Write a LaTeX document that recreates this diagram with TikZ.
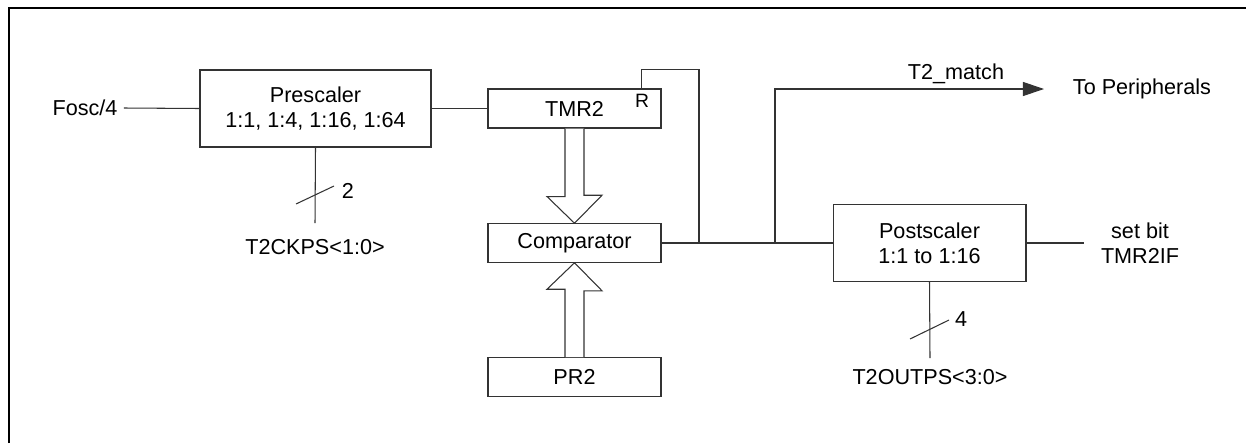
\documentclass[tikz,border=0pt]{standalone}
\usepackage{fontspec}
\setmainfont{Liberation Sans}
\usepackage{tikz}
\usetikzlibrary{arrows.meta, positioning, calc}

\begin{document}
\begin{tikzpicture}[
    x=0.02cm, y=-0.02cm,
    every node/.style={font=\fontsize{12.3}{14}\selectfont, text=black},
    blk/.style={rectangle, draw=black!80, line width=0.6pt, minimum width=3.46cm, minimum height=0.77cm, inner sep=0pt},
    wide/.style={blk, minimum height=1.54cm, align=center},
    wire/.style={draw=black!80, line width=0.6pt},
    bus/.style={draw=black!80, line width=0.6pt, fill=white},
    arr/.style={wire, -{Triangle[length=12pt, width=8pt]}},
    lbl/.style={inner sep=0pt}
]
\useasboundingbox (0,0) rectangle (1246,443);

% outer frame (only top and left edges show)
\draw[line width=1.3pt] (9,443) -- (9,8) -- (1246,8);

% input and prescaler
\node[lbl] (fosc) at (85,108) {Fosc/4};
\node[wide, minimum width=4.62cm] (pre) at (315.5,108.5) {Prescaler\\1:1, 1:4, 1:16, 1:64};
\coordinate (ckpsend) at (315,223);
\node[lbl] (ckps) at (315,247) {T2CKPS<1:0>};
\node[lbl] (ckpsn) at (348,191) {2};

% timer, comparator, period register
\node[blk, minimum height=0.78cm] (tmr) at (574.5,108.5) {TMR2};
\node[lbl, font=\fontsize{11}{12}\selectfont] (rst) at (642,101) {R};
\node[blk] (cmp) at (574.5,243) {Comparator};
\node[blk] (pr) at (574.5,377) {PR2};

% postscaler
\node[wide, minimum width=3.86cm] (pst) at (929.5,243) {Postscaler\\1:1 to 1:16};
\coordinate (setend) at (1084,243);
\node[lbl, align=center] (setbit) at (1140,243) {set bit\\TMR2IF};
\coordinate (outpsend) at (930,358);
\node[lbl] (outps) at (930,377) {T2OUTPS<3:0>};
\node[lbl] (outpsn) at (961,319) {4};

% match output
\coordinate (jreset) at (699,243);
\coordinate (jmatch) at (775,243);
\coordinate (tip) at (1044,89);
\node[lbl] (match) at (956,74) {T2\_match};
\node[lbl] (periph) at (1142,89) {To Peripherals};

% wires
\draw[wire] ($(fosc.east)+(6,0)$) -- (pre.west);
\draw[wire] (pre.east) -- (tmr.west);
\draw[wire] (pre.south) -- (ckpsend);
\draw[wire] (296,204) -- (334,186);
\draw[wire] (pst.south) -- (outpsend);
\draw[wire] (910,339) -- (949,320);
\draw[wire] ($(tmr.north east)+(-20,0)$) -- ++(0,-19) -| (jreset);
\draw[wire] (cmp.east) -- (pst.west);
\draw[arr] (jmatch) |- (tip);
\draw[wire] (pst.east) -- (setend);

% hollow bus arrows
\draw[bus] ($(tmr.south)+(-9.5,0)$) -- ++(0,68) -- ++(-18,0) -- (cmp.north)
    -- ++(27.5,-28) -- ++(-18,0) -- ($(tmr.south)+(9.5,0)$);
\draw[bus] ($(pr.north)+(-9.5,0)$) -- ++(0,-68) -- ++(-18,0) -- (cmp.south)
    -- ++(27.5,28) -- ++(-18,0) -- ($(pr.north)+(9.5,0)$);

\end{tikzpicture}
\end{document}
